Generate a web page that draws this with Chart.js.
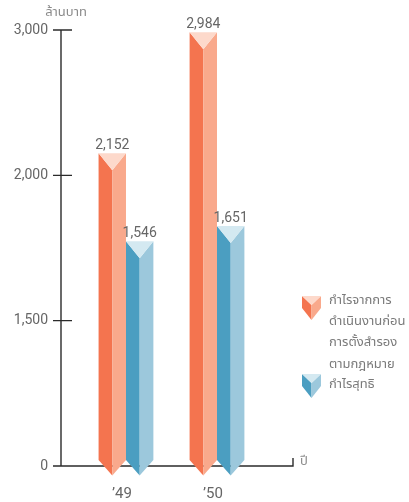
<!DOCTYPE html>
<html>
<head>
<meta charset="utf-8">
<script src="https://cdn.jsdelivr.net/npm/chart.js@4.4.1/dist/chart.umd.min.js"></script>
<style>
  html, body { margin: 0; padding: 0; background: #fff; }
  #wrap { width: 409px; height: 502px; }
</style>
</head>
<body>
<div id="wrap"><canvas id="profitChart"></canvas></div>
<script>
// data
const years = ['\u201949', '\u201950'];
const operatingProfit = [2152, 2984];
const netProfit = [1546, 1651];
const yTickValues = [0, 1000, 2000, 3000];
const yTickLabels = ['0', '1,500', '2,000', '3,000'];
const legendLines = [
    ['กำไรจากการ', 'ดำเนินงานก่อน', 'การตั้งสำรอง', 'ตามกฎหมาย'],
    ['กำไรสุทธิ']
];

const shades = [
    { dark: '#f4744f', light: '#f9a98c', top: '#fdd9cb' },
    { dark: '#4b9ec1', light: '#9cc8dc', top: '#d4e9f1' }
];
const textGrey = '#666666';
const thaiFont = '"Noto Sans Thai", "Noto Sans", "DejaVu Sans", sans-serif';

function drawArrowBar(ctx, x, top, w, sideBottom, notch, taper, c) {
    const l = x - w / 2, r = x + w / 2, tip = sideBottom + taper;
    ctx.fillStyle = c.dark;
    ctx.beginPath();
    ctx.moveTo(l, top); ctx.lineTo(x, top + notch); ctx.lineTo(x, tip); ctx.lineTo(l, sideBottom);
    ctx.closePath(); ctx.fill();
    ctx.fillStyle = c.light;
    ctx.beginPath();
    ctx.moveTo(r, top); ctx.lineTo(x, top + notch); ctx.lineTo(x, tip); ctx.lineTo(r, sideBottom);
    ctx.closePath(); ctx.fill();
    ctx.fillStyle = c.top;
    ctx.beginPath();
    ctx.moveTo(l, top); ctx.lineTo(r, top); ctx.lineTo(x, top + notch);
    ctx.closePath(); ctx.fill();
}

// axes, arrow bars, labels and legend
const decorPlugin = {
    id: 'decor',
    beforeDatasetsDraw(chart) {
        const { ctx, chartArea: a, scales: { y } } = chart;
        ctx.save();
        ctx.strokeStyle = '#2b2b2b';
        ctx.lineWidth = 1.4;
        ctx.beginPath();
        ctx.moveTo(a.left, y.getPixelForValue(3000));
        ctx.lineTo(a.left, a.bottom);
        ctx.lineTo(a.right, a.bottom);
        ctx.lineTo(a.right, a.bottom - 8);
        yTickValues.forEach(v => {
            const py = y.getPixelForValue(v);
            ctx.moveTo(a.left - 8, py);
            ctx.lineTo(a.left + 11, py);
        });
        ctx.stroke();

        ctx.fillStyle = '#8a8a8a';
        ctx.font = '13px ' + thaiFont;
        ctx.textAlign = 'center';
        ctx.textBaseline = 'middle';
        ctx.fillText('ล้านบาท', 66, 13);
        ctx.textAlign = 'left';
        ctx.fillText('ปี', a.right + 7, a.bottom - 4);
        ctx.restore();
    },
    afterDatasetsDraw(chart) {
        const { ctx, chartArea: a } = chart;
        ctx.save();
        chart.data.datasets.forEach((ds, i) => {
            chart.getDatasetMeta(i).data.forEach((bar, j) => {
                const w = bar.width;
                drawArrowBar(ctx, bar.x, bar.y, w, a.bottom - 6, w * 0.62, w * 0.57, shades[i]);
                ctx.fillStyle = textGrey;
                ctx.font = '14px Roboto, sans-serif';
                ctx.textAlign = 'center';
                ctx.textBaseline = 'bottom';
                ctx.fillText(ds.data[j].y.toLocaleString('en-US'), bar.x, bar.y - 1);
            });
        });

        // legend
        const lx = a.right + 9;
        const tops = [296, 374];
        const textY = [301, 385];
        ctx.font = '13px ' + thaiFont;
        ctx.textAlign = 'left';
        ctx.textBaseline = 'middle';
        legendLines.forEach((lines, i) => {
            drawArrowBar(ctx, lx + 9.5, tops[i], 19, tops[i] + 12, 9, 12, shades[i]);
            ctx.fillStyle = '#7a7a7a';
            lines.forEach((t, k) => ctx.fillText(t, lx + 27, textY[i] + k * 21.3));
        });
        ctx.restore();
    }
};

const toPoints = vals => vals.map((v, i) => ({ x: i, y: v }));

new Chart(document.getElementById('profitChart'), {
    type: 'bar',
    data: {
        datasets: [
            { label: legendLines[0].join(''), data: toPoints(operatingProfit), backgroundColor: 'rgba(0,0,0,0)' },
            { label: legendLines[1].join(''), data: toPoints(netProfit), backgroundColor: 'rgba(0,0,0,0)' }
        ]
    },
    options: {
        responsive: true,
        maintainAspectRatio: false,
        animation: false,
        layout: { padding: { top: 30, right: 116, bottom: 0, left: 0 } },
        datasets: { bar: { barThickness: 27.4 } },
        plugins: { legend: { display: false }, tooltip: { enabled: false } },
        scales: {
            x: {
                type: 'linear',
                offset: false,
                min: -0.714,
                max: 1.835,
                afterBuildTicks: s => { s.ticks = years.map((_, i) => ({ value: i })); },
                afterFit: s => { s.height = 36; },
                grid: { display: false, drawTicks: false, offset: false },
                border: { display: false },
                ticks: {
                    callback: v => years[v],
                    padding: 19,
                    labelOffset: -4,
                    color: textGrey,
                    font: { family: 'Roboto', size: 15 }
                }
            },
            y: {
                min: 0,
                max: 3000,
                afterBuildTicks: s => { s.ticks = yTickValues.map(v => ({ value: v })); },
                afterFit: s => { s.width = 61; },
                grid: { display: false, drawTicks: false },
                border: { display: false },
                ticks: {
                    callback: (v, i) => yTickLabels[i],
                    padding: 13,
                    color: textGrey,
                    font: { family: 'Roboto', size: 14 }
                }
            }
        }
    },
    plugins: [decorPlugin]
});
</script>
</body>
</html>
